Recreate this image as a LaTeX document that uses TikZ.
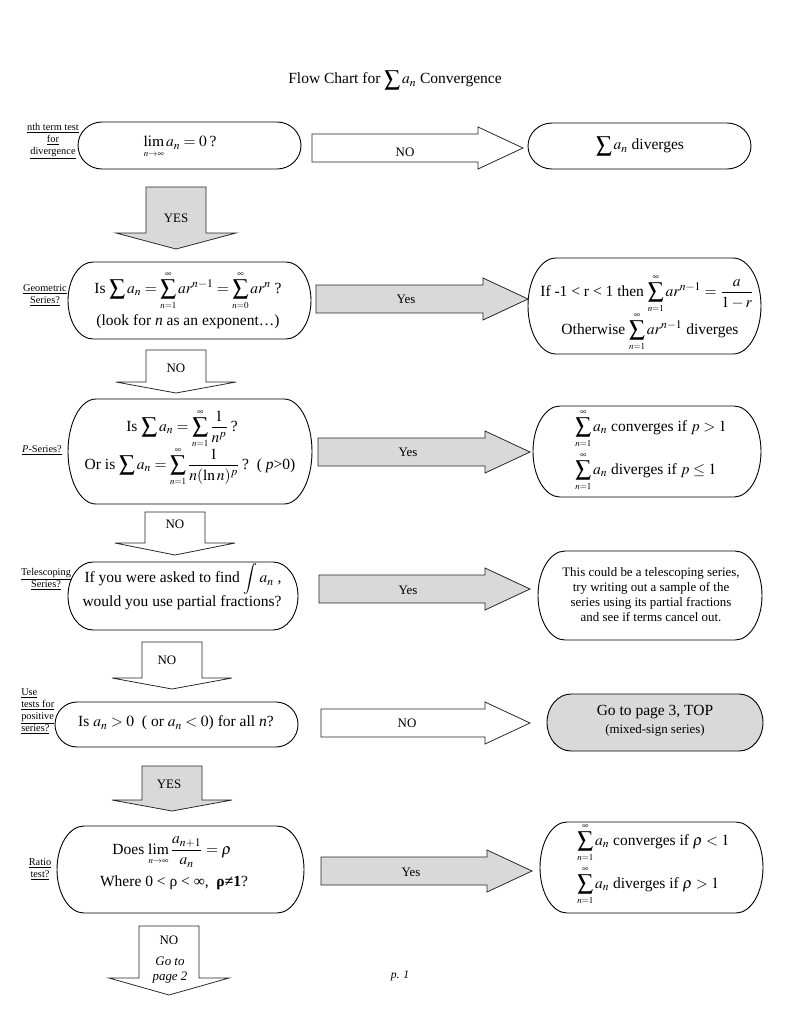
\documentclass[tikz,border=0pt]{standalone}
\usepackage{mathptmx}
\usepackage{fontspec}
\setmainfont{Liberation Serif}
\usetikzlibrary{calc}

\definecolor{boxgray}{gray}{0.85}
\newcommand{\pxu}{0.7737pt}
% sum and limit with small limits, as in the printed sheet
\newcommand{\lsum}[2]{\sum\limits_{\scriptscriptstyle #1}^{\scriptscriptstyle #2}}
\newcommand{\llim}{\lim\limits_{\scriptscriptstyle n\to\infty}}

\tikzset{
  outline/.style={draw=black, line width=0.7pt},
  arrowshape/.style={draw=black!85, line width=0.6pt},
  bigtext/.style={font=\fontsize{12}{14}\selectfont, inner sep=0pt},
  arrtext/.style={font=\fontsize{10}{12}\selectfont, inner sep=0pt},
  sidetext/.style={font=\fontsize{8}{9.3}\selectfont, align=center, inner sep=0pt},
  smalltext/.style={font=\fontsize{10}{11.6}\selectfont, align=center, inner sep=0pt},
}

% rounded box: name, x1, y1, x2, y2, end radius, fill
\newcommand{\stadium}[7]{%
  \draw[outline, fill=#7] (#2+#6,#3) -- (#4-#6,#3)
    arc[start angle=90, end angle=-90, x radius={#6*\pxu}, y radius={(#5-#3)/2*\pxu}]
    -- (#2+#6,#5)
    arc[start angle=270, end angle=90, x radius={#6*\pxu}, y radius={(#5-#3)/2*\pxu}]
    -- cycle;
  \coordinate (#1) at ({(#2+#4)/2},{(#3+#5)/2});
}
% block arrow to the right: name, x start, x tip, y centre, fill
\newcommand{\harrow}[5]{%
  \draw[arrowshape, fill=#5] (#2,#4-14) -- (#3-45,#4-14) -- (#3-45,#4-21) -- (#3,#4)
    -- (#3-45,#4+21) -- (#3-45,#4+14) -- (#2,#4+14) -- cycle;
  \coordinate (#1) at ({(#2+#3-45)/2},#4);
}
% block arrow down: name, x centre, y top, y head, y tip, fill
\newcommand{\varrow}[6]{%
  \draw[arrowshape, fill=#6] (#2-30,#3) -- (#2+30,#3) -- (#2+30,#4) -- (#2+60,#4)
    -- (#2,#5) -- (#2-60,#4) -- (#2-30,#4) -- cycle;
  \coordinate (#1) at (#2,{(#3+#4)/2});
}

\begin{document}
\begin{tikzpicture}[x=0.7737pt, y=-0.7737pt]
  \useasboundingbox (0,0) rectangle (791,1024);
  \fill[white] (0,0) rectangle (791,1024);

  % title
  \node[bigtext] (title) at (395,80) {Flow Chart for $\displaystyle\sum a_n$ Convergence};

  % boxes
  \stadium{nthQ}{78}{122}{301}{169}{24}{white}
  \stadium{nthR}{528}{123}{751}{169}{24}{white}
  \stadium{geoQ}{68}{262}{311}{339}{25}{white}
  \stadium{geoR}{528}{258}{761}{354}{28}{white}
  \stadium{pQ}{68}{399}{312}{504}{28}{white}
  \stadium{pR}{533}{406}{761}{497}{27}{white}
  \stadium{telQ}{68}{562}{298}{630}{25}{white}
  \stadium{telR}{538}{551}{762}{640}{27}{white}
  \stadium{posQ}{55}{702}{298}{747}{22}{white}
  \stadium{posR}{547}{694}{763}{751}{24}{boxgray}
  \stadium{ratQ}{57}{826}{304}{913}{27}{white}
  \stadium{ratR}{540}{822}{763}{913}{27}{white}

  % arrows across
  \harrow{nthNo}{312}{523}{148}{white}
  \harrow{geoYes}{316}{528}{299}{boxgray}
  \harrow{pYes}{318}{530}{452}{boxgray}
  \harrow{telYes}{319}{530}{589}{boxgray}
  \harrow{posNo}{321}{530}{723}{white}
  \harrow{ratYes}{321}{532}{871}{boxgray}

  % arrows down
  \varrow{nthYes}{176}{187}{233}{249}{boxgray}
  \varrow{geoNo}{176}{350}{382}{393}{white}
  \varrow{pNo}{175}{512}{543}{555}{white}
  \varrow{telNo}{172}{642}{678}{689}{white}
  \varrow{posYes}{172}{766}{800}{811}{boxgray}
  \varrow{ratNo}{169}{926}{978}{995}{white}

  % arrow labels
  \node[arrtext] (nthNoT) at (405,152) {NO};
  \node[arrtext] (geoYesT) at (406,299) {Yes};
  \node[arrtext] (pYesT) at (408,452) {Yes};
  \node[arrtext] (telYesT) at (408,590) {Yes};
  \node[arrtext] (posNoT) at (407,723) {NO};
  \node[arrtext] (ratYesT) at (411,872) {Yes};
  \node[arrtext] (nthYesT) at (176,218) {YES};
  \node[arrtext] (geoNoT) at (176,368) {NO};
  \node[arrtext] (pNoT) at (175,524) {NO};
  \node[arrtext] (telNoT) at (167,660) {NO};
  \node[arrtext] (posYesT) at (169,784) {YES};
  \node[arrtext] (ratNoT) at (169,940) {NO};
  \node[arrtext, font=\fontsize{10}{12}\selectfont\itshape, align=center] (ratGo) at (170,970) {Go to\\page 2};

  % side labels
  \node[sidetext] (nthL) at (53,141) {\underline{nth term test}\\\underline{for}\\\underline{divergence}};
  \node[sidetext] (geoL) at (45,295) {\underline{Geometric}\\\underline{Series?}};
  \node[sidetext] (pL) at (42,450) {\underline{\textit{P}-Series?}};
  \node[sidetext] (telL) at (46,579) {\underline{Telescoping}\\\underline{Series?}};
  \node[sidetext, align=left, anchor=west] (posL) at (21,711) {\underline{Use}\\\underline{tests for}\\\underline{positive}\\\underline{series?}};
  \node[sidetext] (ratL) at (40,869) {\underline{Ratio}\\\underline{test?}};

  % box texts
  \node[bigtext] (nthQT) at (180,147) {$\displaystyle\llim a_n = 0$\,?};
  \node[bigtext] (nthRT) at (640,146) {$\displaystyle\sum a_n$ diverges};

  \node[bigtext] (geoQa) at (188,291) {Is $\displaystyle\sum a_n = \lsum{n=1}{\infty} ar^{n-1} = \lsum{n=0}{\infty} ar^{n}$ ?};
  \node[bigtext] (geoQb) at (188,322) {(look for \textit{n} as an exponent…)};
  \node[bigtext] (geoRa) at (647,294) {If -1 < r < 1 then $\displaystyle\lsum{n=1}{\infty} ar^{n-1} = \frac{a}{1-r}$};
  \node[bigtext] (geoRb) at (650,332) {Otherwise $\displaystyle\lsum{n=1}{\infty} ar^{n-1}$ diverges};

  \node[bigtext] (pQa) at (182,429) {Is $\displaystyle\sum a_n = \lsum{n=1}{\infty} \frac{1}{n^{p}}$\,?};
  \node[bigtext] (pQb) at (190,467) {Or is $\displaystyle\sum a_n = \lsum{n=1}{\infty} \frac{1}{n(\ln n)^{p}}$\,?~~( \textit{p}>0)};
  \node[bigtext, anchor=west] (pRa) at (575,429) {$\displaystyle\lsum{n=1}{\infty} a_n$ converges if $p>1$};
  \node[bigtext, anchor=west] (pRb) at (575,472) {$\displaystyle\lsum{n=1}{\infty} a_n$ diverges if $p\le 1$};

  \node[bigtext] (telQa) at (183,579) {If you were asked to find $\displaystyle\int a_n$ ,};
  \node[bigtext] (telQb) at (182,603) {would you use partial fractions?};
  \node[smalltext] (telRT) at (651,595) {This could be a telescoping series,\\try writing out a sample of the\\series using its partial fractions\\and see if terms cancel out.};

  \node[bigtext] (posQT) at (176,723) {Is $a_n>0$~ ( or $a_n<0$) for all \textit{n}?};
  \node[bigtext] (posRa) at (655,712) {Go to page 3, TOP};
  \node[arrtext] (posRb) at (655,730) {(mixed-sign series)};

  \node[bigtext] (ratQa) at (172,852) {Does $\displaystyle\llim\frac{a_{n+1}}{a_n} = \rho$};
  \node[bigtext] (ratQb) at (174,883) {Where 0 < ρ < ∞,~ \textbf{ρ≠1}?};
  \node[bigtext, anchor=west] (ratRa) at (577,843) {$\displaystyle\lsum{n=1}{\infty} a_n$ converges if $\rho<1$};
  \node[bigtext, anchor=west] (ratRb) at (577,886) {$\displaystyle\lsum{n=1}{\infty} a_n$ diverges if $\rho>1$};

  % page number
  \node[arrtext, font=\fontsize{9}{11}\selectfont\itshape] (pageno) at (400,976) {p. 1};
\end{tikzpicture}
\end{document}
